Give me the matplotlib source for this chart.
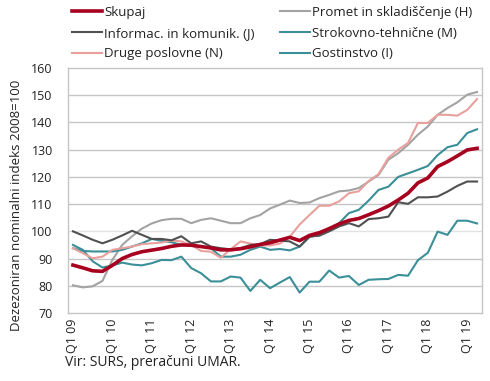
import matplotlib
matplotlib.use("Agg")
import matplotlib.pyplot as plt
import numpy as np

plt.rcParams['font.family'] = ['Open Sans', 'DejaVu Sans']

quarters = [f"Q{q} {y:02d}" for y in range(9, 20) for q in range(1, 5)][:42]
tick_labels = [f"Q1 {y:02d}" for y in range(9, 20)]

skupaj = [87.6, 86.6, 85.5, 85.3, 87.5, 90.0, 91.5, 92.5, 93.1, 93.7,
          94.5, 95.0, 94.9, 94.4, 93.9, 93.2, 93.2, 93.6, 94.3, 95.2,
          95.8, 96.8, 97.8, 96.6, 98.5, 99.5, 101.0, 102.7, 104.0, 104.7,
          106.1, 107.6, 109.3, 111.5, 114.0, 117.8, 119.6, 123.8, 125.6, 127.7,
          129.9, 130.5]
promet_H = [80.2, 79.4, 79.8, 81.8, 89.5, 95.0, 98.2, 101.0, 102.9, 104.1,
            104.6, 104.6, 103.0, 104.2, 104.8, 103.9, 103.0, 103.0, 104.8, 106.0,
            108.4, 109.8, 111.3, 110.4, 110.6, 112.2, 113.4, 114.7, 115.0, 115.9,
            118.3, 120.7, 126.3, 128.7, 131.8, 135.5, 138.5, 142.8, 145.3, 147.4,
            150.2, 151.2]
informac_J = [100.0, 98.5, 96.9, 95.6, 96.9, 98.5, 100.2, 98.7, 97.2, 97.2,
              96.7, 98.2, 95.6, 96.3, 94.4, 93.8, 93.4, 93.8, 95.0, 95.3,
              96.9, 96.6, 96.3, 94.4, 98.1, 98.4, 100.0, 101.8, 103.0, 101.8,
              104.5, 104.8, 105.4, 110.7, 110.1, 112.5, 112.5, 112.8, 114.6, 116.7,
              118.3, 118.3]
strokovno_M = [93.8, 92.8, 92.6, 92.6, 92.6, 93.2, 94.4, 95.6, 97.2, 96.5,
               96.0, 95.0, 95.0, 94.4, 93.8, 90.7, 90.7, 91.4, 93.2, 94.4,
               93.2, 93.5, 93.0, 94.4, 97.9, 98.7, 100.6, 103.0, 106.7, 107.9,
               111.3, 115.2, 116.4, 120.0, 121.3, 122.6, 124.0, 128.0, 130.9, 131.8,
               136.1, 137.5]
druge_N = [93.8, 92.0, 90.1, 90.7, 93.2, 93.8, 94.4, 95.3, 95.6, 95.9,
           96.6, 96.3, 95.0, 92.8, 92.5, 90.3, 93.4, 96.3, 95.5, 94.8,
           94.8, 95.5, 98.0, 102.5, 106.0, 109.4, 109.4, 111.0, 114.0, 114.7,
           118.5, 121.0, 127.0, 130.0, 132.5, 139.8, 139.8, 142.8, 142.8, 142.5,
           144.6, 148.6]
gostinstvo_I = [95.0, 93.2, 89.0, 86.7, 87.5, 88.5, 87.8, 87.5, 88.3, 89.5,
                89.4, 90.7, 86.5, 84.6, 81.6, 81.6, 83.4, 83.0, 78.1, 82.2,
                79.1, 81.2, 83.2, 77.5, 81.5, 81.5, 85.6, 83.0, 83.6, 80.3,
                82.2, 82.4, 82.5, 84.0, 83.7, 89.4, 92.1, 99.9, 98.7, 103.9,
                103.9, 102.9]

teal = '#3B8F98'
text_col = '#222222'
fig = plt.figure(figsize=(4.9, 3.81), dpi=100)
ax = fig.add_axes([68/490, 1-313/381, (482-68)/490, (313-68)/381])

x = np.arange(len(quarters))
lines = {}
lines['H'], = ax.plot(x, promet_H, color='#A3A3A3', lw=1.5, label='Promet in skladiščenje (H)')
lines['M'], = ax.plot(x, strokovno_M, color=teal, lw=1.5, label='Strokovno-tehnične (M)')
lines['I'], = ax.plot(x, gostinstvo_I, color=teal, lw=1.5, label='Gostinstvo (I)')
lines['N'], = ax.plot(x, druge_N, color='#E8A09C', lw=1.5, label='Druge poslovne (N)')
lines['J'], = ax.plot(x, informac_J, color='#505050', lw=1.5, label='Informac. in komunik. (J)')
lines['S'], = ax.plot(x, skupaj, color='#A8001F', lw=2.6, label='Skupaj')

ax.set_xlim(-0.5, len(quarters) - 0.5)
ax.set_ylim(70, 160)
yt = np.arange(70, 161, 10)
ax.set_yticks(yt)
ax.set_xticks(np.arange(0, len(quarters), 4))
ax.set_xticklabels(tick_labels, rotation=90)
ax.tick_params(axis='both', length=0, labelsize=9, colors=text_col)
ax.tick_params(axis='y', pad=11)
ax.tick_params(axis='x', pad=4)
for v in yt[1:-1]:
    ax.axhline(v, color='#E2E2E2' if v == 100 else '#C6C6C6', lw=1.0, zorder=0)
for s in ax.spines.values():
    s.set_color('#C6C6C6')
    s.set_linewidth(1.0)

leg_kw = dict(loc='upper left', frameon=False, fontsize=9.5, handlelength=2.3,
              handletextpad=0.15, labelspacing=0.58, borderaxespad=0, borderpad=0)
col1 = ['S', 'J', 'N']
col2 = ['H', 'M', 'I']
l1 = fig.legend([lines[k] for k in col1], [lines[k].get_label() for k in col1],
                bbox_to_anchor=(72/490, 1-6/381), **leg_kw)
l2 = fig.legend([lines[k] for k in col2], [lines[k].get_label() for k in col2],
                bbox_to_anchor=(280/490, 1-6/381), **leg_kw)
for lg in (l1, l2):
    for t in lg.get_texts():
        t.set_color(text_col)

fig.text(17/490, 1-205/381, 'Dezezoniran nominalni indeks 2008=100', rotation=90,
         ha='center', va='center', fontsize=9.5, color=text_col)
fig.text(65/490, 1-362/381, 'Vir: SURS, preračuni UMAR.', ha='left', va='center',
         fontsize=10, color=text_col)

fig.savefig('out.png', dpi=100)
